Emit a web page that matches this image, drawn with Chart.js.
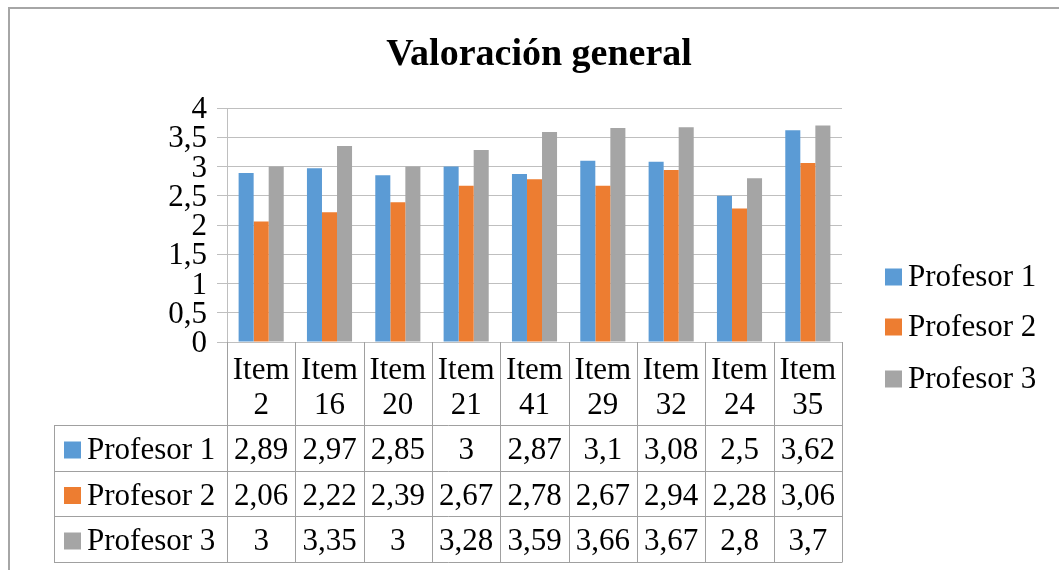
<!DOCTYPE html>
<html>
<head>
<meta charset="utf-8">
<script src="https://cdn.jsdelivr.net/npm/chart.js@4.4.0/dist/chart.umd.min.js"></script>
<style>
  html, body { margin: 0; padding: 0; background: #fff; }
  #wrap { width: 1059px; height: 570px; }
</style>
</head>
<body>
<div id="wrap"><canvas id="myChart" width="1059" height="570"></canvas></div>
<script>
// data
const items = ['Item 2', 'Item 16', 'Item 20', 'Item 21', 'Item 41', 'Item 29', 'Item 32', 'Item 24', 'Item 35'];
const profesor1 = [2.89, 2.97, 2.85, 3, 2.87, 3.1, 3.08, 2.5, 3.62];
const profesor2 = [2.06, 2.22, 2.39, 2.67, 2.78, 2.67, 2.94, 2.28, 3.06];
const profesor3 = [3, 3.35, 3, 3.28, 3.59, 3.66, 3.67, 2.8, 3.7];
const seriesNames = ['Profesor 1', 'Profesor 2', 'Profesor 3'];
const colors = ['#5B9BD5', '#ED7D31', '#A5A5A5'];
const yTicks = [0, 0.5, 1, 1.5, 2, 2.5, 3, 3.5, 4];

const FONT = '"Liberation Serif", "Times New Roman", serif';
const lineColor = '#BFBFBF';
const TXT = 31;

const comma = v => String(v).replace('.', ',');

const tablePlugin = {
  id: 'tablePlugin',
  afterDraw(chart) {
    const c = chart.ctx;
    const x = chart.scales.x;
    const area = chart.chartArea;
    const n = items.length;
    const step = (area.right - area.left) / n;
    const bounds = [];
    for (let i = 0; i <= n; i++) bounds.push(area.left + step * i);

    const headerTop = area.bottom;
    const rowLines = [425, 471, 516, 562];
    const tableLeft = 54;

    c.save();
    // frame
    c.strokeStyle = '#A6A6A6';
    c.lineWidth = 2;
    c.beginPath();
    c.moveTo(9, 570);
    c.lineTo(9, 8);
    c.lineTo(1059, 8);
    c.stroke();

    // title
    c.fillStyle = '#000';
    c.font = 'bold 38px ' + FONT;
    c.textAlign = 'center';
    c.textBaseline = 'middle';
    c.fillText('Valoración general', 539, 55);

    // table grid
    c.strokeStyle = '#A0A0A0';
    c.lineWidth = 1;
    c.beginPath();
    bounds.forEach(b => {
      const bx = Math.round(b) + 0.5;
      c.moveTo(bx, headerTop);
      c.lineTo(bx, rowLines[3]);
    });
    rowLines.forEach(y => {
      c.moveTo(tableLeft, y + 0.5);
      c.lineTo(Math.round(bounds[n]) + 0.5, y + 0.5);
    });
    c.moveTo(tableLeft + 0.5, rowLines[0]);
    c.lineTo(tableLeft + 0.5, rowLines[3]);
    c.stroke();

    // header text
    c.font = TXT + 'px ' + FONT;
    c.fillStyle = '#000';
    c.textAlign = 'center';
    c.textBaseline = 'middle';
    items.forEach((it, i) => {
      const cx = x.getPixelForValue(i);
      const parts = it.split(' ');
      c.fillText(parts[0], cx, 371);
      c.fillText(parts[1], cx, 406);
    });

    // data rows
    const rows = [profesor1, profesor2, profesor3];
    rows.forEach((vals, r) => {
      const cy = (rowLines[r] + rowLines[r + 1]) / 2 + 3;
      c.fillStyle = colors[r];
      c.fillRect(64, cy - 9.5, 17, 17);
      c.fillStyle = '#000';
      c.textAlign = 'left';
      c.fillText(seriesNames[r], 87, cy);
      c.textAlign = 'center';
      vals.forEach((v, i) => {
        c.fillText(comma(v), x.getPixelForValue(i), cy);
      });
    });

    // legend
    const legY = [278, 328, 380];
    seriesNames.forEach((name, r) => {
      c.fillStyle = colors[r];
      c.fillRect(885, legY[r] - 9.5, 17, 17);
      c.fillStyle = '#000';
      c.textAlign = 'left';
      c.fillText(name, 908, legY[r]);
    });
    c.restore();
  }
};

const data = {
  labels: items,
  datasets: [
    { label: seriesNames[0], data: profesor1, backgroundColor: colors[0] },
    { label: seriesNames[1], data: profesor2, backgroundColor: colors[1] },
    { label: seriesNames[2], data: profesor3, backgroundColor: colors[2] }
  ]
};

const config = {
  type: 'bar',
  data: data,
  options: {
    responsive: false,
    animation: false,
    layout: { padding: { left: 0, top: 108, right: 1059 - 842, bottom: 570 - 342 } },
    datasets: { bar: { barPercentage: 1, categoryPercentage: 0.66 } },
    plugins: {
      legend: { display: false },
      title: { display: false },
      tooltip: { enabled: false }
    },
    scales: {
      x: { display: false },
      y: {
        min: 0,
        max: 4,
        afterBuildTicks: scale => { scale.ticks = yTicks.map(v => ({ value: v })); },
        afterFit: scale => { scale.width = 227; },
        ticks: {
          color: '#000',
          font: { family: FONT, size: TXT },
          padding: 10,
          labelOffset: 2,
          autoSkip: false,
          callback: v => comma(v)
        },
        grid: { color: lineColor, tickLength: 10, tickColor: lineColor },
        border: { color: lineColor }
      }
    }
  },
  plugins: [tablePlugin]
};

const myChart = new Chart(document.getElementById('myChart').getContext('2d'), config);
</script>
</body>
</html>
